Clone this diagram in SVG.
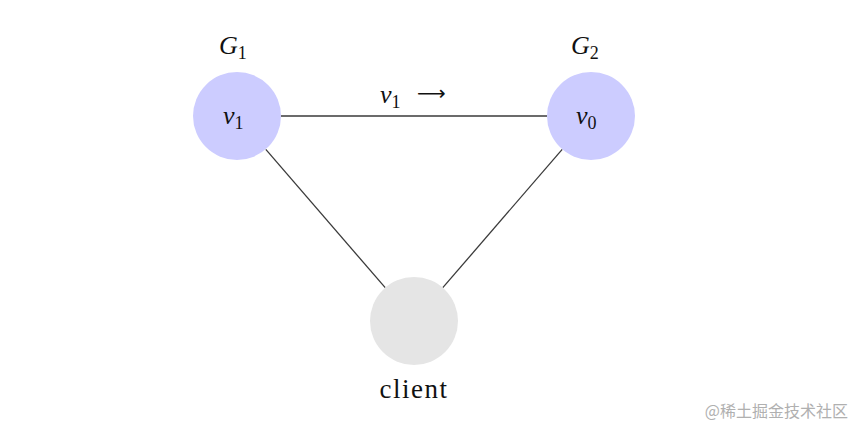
<svg xmlns="http://www.w3.org/2000/svg" width="856" height="427" viewBox="0 0 856 427">
<style>
.math{font-family:"Liberation Serif","DejaVu Serif",serif;font-style:italic;font-size:26px;fill:#111}
.sub{font-family:"Liberation Serif","DejaVu Serif",serif;font-style:normal;font-size:18px;fill:#111}
.rm{font-family:"Liberation Serif","DejaVu Serif",serif;font-size:27px;fill:#111;letter-spacing:1.5px}
.arr{font-family:"DejaVu Sans",sans-serif;font-style:normal;font-size:20px;fill:#111}
.edge{stroke:#3a3a3a;stroke-width:1.3;fill:none}
.srv{fill:#ccccff}
.cli{fill:#e5e5e5}
.wm{font-family:"Noto Sans CJK SC","Noto Sans",sans-serif;font-size:16px;fill:#b0b0b0}
</style>
<rect width="856" height="427" fill="#ffffff"/>
<g id="connectors">
<line class="edge" x1="281" y1="116" x2="547" y2="116"/>
<line class="edge" x1="265.8" y1="149.3" x2="385.2" y2="287.7"/>
<line class="edge" x1="562.2" y1="149.3" x2="442.8" y2="287.7"/>
<text class="math" x="380" y="103">v<tspan class="sub" dy="5">1</tspan></text>
<text class="arr" x="417" y="100">⟶</text>
</g>
<g id="v1">
<circle class="srv" cx="237" cy="116" r="44"/>
<text class="math" x="223" y="124">v<tspan class="sub" dy="5">1</tspan></text>
<text class="math" x="219" y="54">G<tspan class="sub" dy="5">1</tspan></text>
</g>
<g id="v0">
<circle class="srv" cx="591" cy="116" r="44"/>
<text class="math" x="576" y="124">v<tspan class="sub" dy="5">0</tspan></text>
<text class="math" x="571" y="54">G<tspan class="sub" dy="5">2</tspan></text>
</g>
<g id="client">
<circle class="cli" cx="414" cy="321" r="44"/>
<text class="rm" x="414" y="398" text-anchor="middle">client</text>
</g>
<text class="wm" x="848" y="417" text-anchor="end">@稀土掘金技术社区</text>
</svg>
